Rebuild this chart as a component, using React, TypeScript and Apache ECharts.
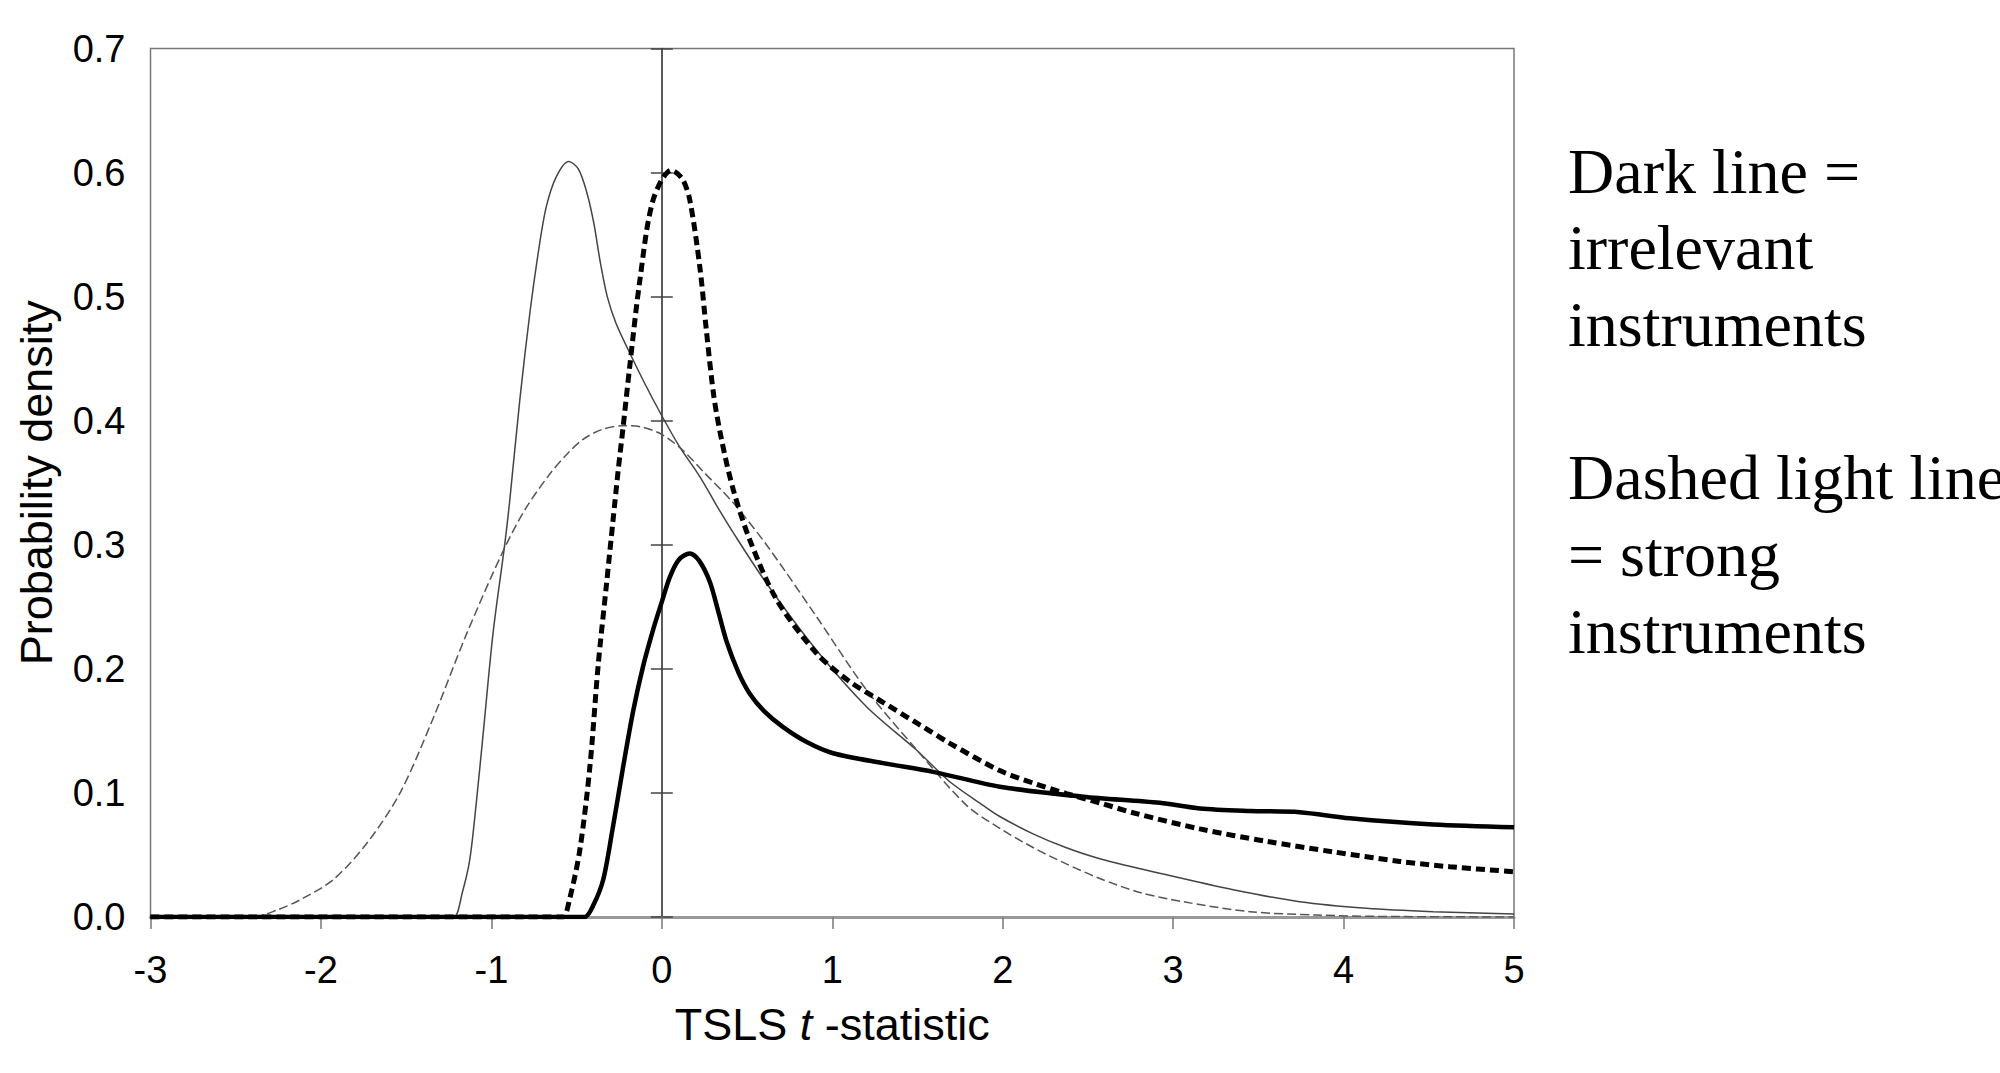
import React, { useEffect, useRef } from "react";
import * as echarts from "echarts";

// x ticks and y ticks
const xTicks = [-3, -2, -1, 0, 1, 2, 3, 4, 5];
const yTicks = [0, 0.1, 0.2, 0.3, 0.4, 0.5, 0.6, 0.7];

// Thin solid light line
const thinSolid: number[][] = [
  [-3, 0], [-1.3, 0], [-1.22, 0], [-1.17, 0.02], [-1.127, 0.046], [-1.09, 0.09], [-1.048, 0.148],
  [-0.99, 0.229], [-0.921, 0.301], [-0.892, 0.336], [-0.833, 0.417], [-0.774, 0.487],
  [-0.72, 0.54], [-0.677, 0.573], [-0.618, 0.597], [-0.546, 0.609], [-0.49, 0.603],
  [-0.442, 0.585], [-0.4, 0.56], [-0.36, 0.527], [-0.32, 0.5], [-0.27, 0.479], [-0.2, 0.458],
  [-0.1, 0.43], [0, 0.404], [0.1, 0.38], [0.223, 0.355], [0.32, 0.332], [0.418, 0.31],
  [0.614, 0.269], [0.908, 0.215], [1.201, 0.1695], [1.494, 0.1346], [1.69, 0.109],
  [1.885, 0.09], [1.983, 0.081], [2.178, 0.067], [2.37, 0.056], [2.57, 0.047],
  [2.961, 0.034], [3.352, 0.022], [3.743, 0.0123], [4.134, 0.007], [4.526, 0.0043], [5, 0.0024],
];

// Thin dashed light line
const thinDashed: number[][] = [
  [-3, 0], [-2.5, 0], [-2.4, 0], [-2.25, 0.006], [-2.124, 0.0137], [-1.929, 0.03], [-1.733, 0.059],
  [-1.537, 0.0997], [-1.342, 0.16], [-1.146, 0.228], [-0.931, 0.295], [-0.8, 0.329],
  [-0.657, 0.357], [-0.55, 0.374], [-0.462, 0.385], [-0.35, 0.393], [-0.227, 0.396],
  [-0.12, 0.395], [0, 0.389], [0.125, 0.376], [0.25, 0.358], [0.418, 0.334], [0.614, 0.3],
  [0.908, 0.242], [1.201, 0.183], [1.494, 0.135], [1.788, 0.09], [1.983, 0.0715],
  [2.178, 0.056], [2.37, 0.043], [2.57, 0.031], [2.8, 0.02], [3.059, 0.0123], [3.45, 0.0043],
  [3.841, 0.0016], [4.2, 0.0005], [5, 0],
];

// Thick dashed dark line
const thickDashed: number[][] = [
  [-3, 0], [-0.65, 0], [-0.58, 0], [-0.54, 0.015], [-0.481, 0.054], [-0.422, 0.121], [-0.374, 0.202],
  [-0.324, 0.269], [-0.286, 0.32], [-0.256, 0.36], [-0.227, 0.395], [-0.188, 0.444],
  [-0.129, 0.513], [-0.051, 0.578], [0.057, 0.602], [0.12, 0.595], [0.164, 0.578],
  [0.223, 0.524], [0.262, 0.472], [0.305, 0.42], [0.35, 0.385], [0.418, 0.345], [0.516, 0.304],
  [0.673, 0.256], [0.908, 0.2125], [1.1, 0.19], [1.298, 0.173], [1.5, 0.156], [1.69, 0.14],
  [1.983, 0.118], [2.178, 0.108], [2.374, 0.0995], [2.57, 0.092], [2.765, 0.084],
  [3.157, 0.071], [3.548, 0.061], [3.939, 0.0525], [4.33, 0.0448], [4.623, 0.0405], [5, 0.0365],
];

// Thick solid dark line
const thickSolid: number[][] = [
  [-3, 0], [-0.52, 0], [-0.452, 0], [-0.4, 0.01], [-0.344, 0.03], [-0.29, 0.07], [-0.227, 0.121],
  [-0.168, 0.166], [-0.11, 0.202], [-0.05, 0.232], [0, 0.254], [0.047, 0.274], [0.1, 0.288],
  [0.164, 0.293], [0.22, 0.287], [0.282, 0.27], [0.33, 0.247], [0.38, 0.222], [0.45, 0.197],
  [0.516, 0.18], [0.6, 0.166], [0.712, 0.153], [0.85, 0.141], [1.005, 0.132], [1.298, 0.124],
  [1.592, 0.117], [1.983, 0.105], [2.472, 0.097], [2.922, 0.092], [3.157, 0.0875],
  [3.45, 0.0855], [3.743, 0.0845], [4.037, 0.0795], [4.526, 0.0745], [5, 0.0723],
];

const annotationLines = [
  "Dark line =",
  "irrelevant",
  "instruments",
  "",
  "Dashed light line",
  "= strong",
  "instruments",
];

export default function App() {
  const ref = useRef<HTMLDivElement>(null);

  useEffect(() => {
    document.body.style.margin = "0";
    if (!ref.current) return;
    const chart = echarts.init(ref.current, undefined, { renderer: "svg" });

    const sansFont = "Liberation Sans, Arial, sans-serif";
    const yAxisBase = {
      type: "value",
      min: yTicks[0],
      max: yTicks[yTicks.length - 1],
      interval: 0.1,
      splitLine: { show: false },
    };

    const graphics = annotationLines
      .map((t, i) => ({ t, i }))
      .filter((d) => d.t.length > 0)
      .map((d) => ({
        type: "text",
        left: 1568,
        top: 177 + d.i * 76.7 - 38,
        style: {
          text: d.t,
          font: "64px 'Liberation Serif', 'Times New Roman', serif",
          fill: "#000",
        },
      }));

    const lineCommon = {
      type: "line",
      showSymbol: false,
      smooth: 0.3,
    };

    chart.setOption({
      animation: false,
      backgroundColor: "#fff",
      grid: {
        left: 150.5,
        right: 486,
        top: 48.5,
        bottom: 156,
        show: true,
        borderColor: "#777",
        borderWidth: 1.5,
      },
      xAxis: {
        type: "value",
        min: xTicks[0],
        max: xTicks[xTicks.length - 1],
        interval: 1,
        splitLine: { show: false },
        axisLine: { show: true, lineStyle: { color: "#999", width: 3 } },
        axisTick: { show: true, length: 12, lineStyle: { color: "#777", width: 1.5 } },
        axisLabel: { fontFamily: sansFont, fontSize: 38, color: "#000", margin: 34 },
        name: "{n|TSLS }{i|t}{n| -statistic}",
        nameLocation: "middle",
        nameGap: 85,
        nameTextStyle: {
          rich: {
            n: { fontFamily: sansFont, fontSize: 45, color: "#000" },
            i: { fontFamily: sansFont, fontSize: 45, color: "#000", fontStyle: "italic" },
          },
        },
      },
      yAxis: [
        {
          ...yAxisBase,
          position: "left",
          axisLine: { show: false, onZero: false },
          axisTick: { show: false },
          axisLabel: {
            fontFamily: sansFont,
            fontSize: 38,
            color: "#000",
            margin: 25,
            formatter: (v: number) => v.toFixed(1),
          },
          name: "Probability density",
          nameLocation: "middle",
          nameGap: 92,
          nameTextStyle: { fontFamily: sansFont, fontSize: 45, color: "#000" },
        },
        {
          ...yAxisBase,
          position: "left",
          axisLine: { show: true, onZero: true, onZeroAxisIndex: 0, lineStyle: { color: "#222", width: 1.5 } },
          axisTick: { show: true, inside: true, length: 11, lineStyle: { color: "#444", width: 1.5 } },
          axisLabel: { show: false },
        },
        {
          ...yAxisBase,
          position: "left",
          axisLine: { show: false, onZero: true, onZeroAxisIndex: 0 },
          axisTick: { show: true, inside: false, length: 11, lineStyle: { color: "#444", width: 1.5 } },
          axisLabel: { show: false },
        },
      ],
      series: [
        {
          ...lineCommon,
          name: "Thin solid",
          data: thinSolid,
          lineStyle: { color: "#444", width: 1.5 },
          z: 3,
        },
        {
          ...lineCommon,
          name: "Thin dashed",
          data: thinDashed,
          lineStyle: { color: "#555", width: 1.5, type: [9, 4] },
          z: 3,
        },
        {
          ...lineCommon,
          name: "Thick dashed",
          data: thickDashed,
          lineStyle: { color: "#000", width: 5, type: [9, 5] },
          z: 4,
        },
        {
          ...lineCommon,
          name: "Thick solid",
          data: thickSolid,
          lineStyle: { color: "#000", width: 4.5 },
          z: 4,
        },
      ],
      graphic: graphics,
    });

    return () => chart.dispose();
  }, []);

  return <div ref={ref} style={{ width: 2000, height: 1073 }} />;
}
